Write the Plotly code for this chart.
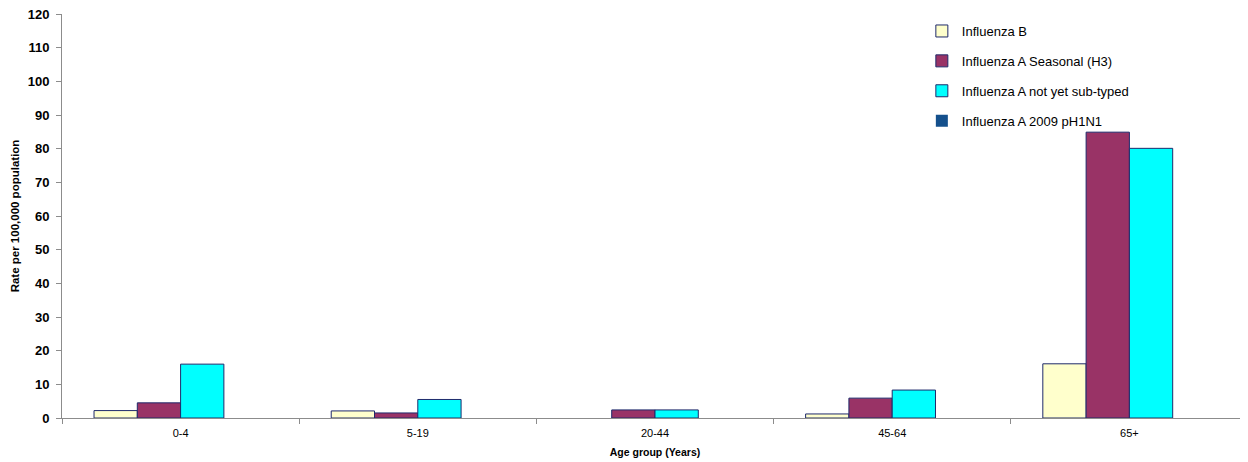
import plotly.graph_objects as go

age_groups = ["0-4", "5-19", "20-44", "45-64", "65+"]
series_names = ["Influenza B", "Influenza A Seasonal (H3)", "Influenza A not yet sub-typed", "Influenza A 2009 pH1N1"]
flu_b = [2.2, 2.1, 0, 1.2, 16.1]
flu_a_h3 = [4.5, 1.5, 2.4, 5.9, 84.9]
flu_a_untyped = [16.0, 5.5, 2.4, 8.3, 80.1]
flu_a_ph1n1 = [0, 0, 0, 0, 0]
colors = ["#FFFFCC", "#993366", "#00FFFF", "#14508C"]

fig = go.Figure()
for i, (name, vals) in enumerate(zip(series_names, [flu_b, flu_a_h3, flu_a_untyped, flu_a_ph1n1])):
    widths = [1 if v else 0 for v in vals]
    fig.add_trace(go.Bar(
        x=age_groups, y=vals, name=name,
        marker=dict(color=colors[i], line=dict(color="#1F2A6B", width=widths)),
        legendgroup="g%d" % i,
    ))

fig.update_layout(
    width=1240, height=454,
    margin=dict(l=54, r=0, t=6, b=44, autoexpand=False),
    paper_bgcolor="white", plot_bgcolor="white",
    barmode="group", bargap=0.27, bargroupgap=0,
    font=dict(family="Liberation Sans, Arial, sans-serif", color="black"),
    showlegend=True,
    legend=dict(x=0.725, y=0.995, xanchor="left", yanchor="top",
                font=dict(size=13), tracegroupgap=10,
                bgcolor="rgba(0,0,0,0)", itemwidth=30),
    xaxis=dict(
        title=dict(text="<b>Age group (Years)</b>", font=dict(size=10.5), standoff=10),
        showline=True, linecolor="#8C8C8C", linewidth=1,
        ticks="outside", tickson="boundaries", ticklen=5, tickcolor="#8C8C8C",
        tickfont=dict(size=11), ticklabelstandoff=5,
        showgrid=False, zeroline=False, automargin=False,
    ),
    yaxis=dict(
        title=dict(text="<b>Rate per 100,000 population</b>", font=dict(size=11.5), standoff=5),
        range=[0, 120], dtick=10,
        showline=True, linecolor="#8C8C8C", linewidth=1,
        ticks="outside", ticklen=5, tickcolor="#8C8C8C",
        tickfont=dict(size=13, weight="bold"), ticklabelstandoff=4,
        ticklabeloverflow="allow",
        showgrid=False, zeroline=False, automargin=False,
    ),
)

fig.write_html("out.html")
